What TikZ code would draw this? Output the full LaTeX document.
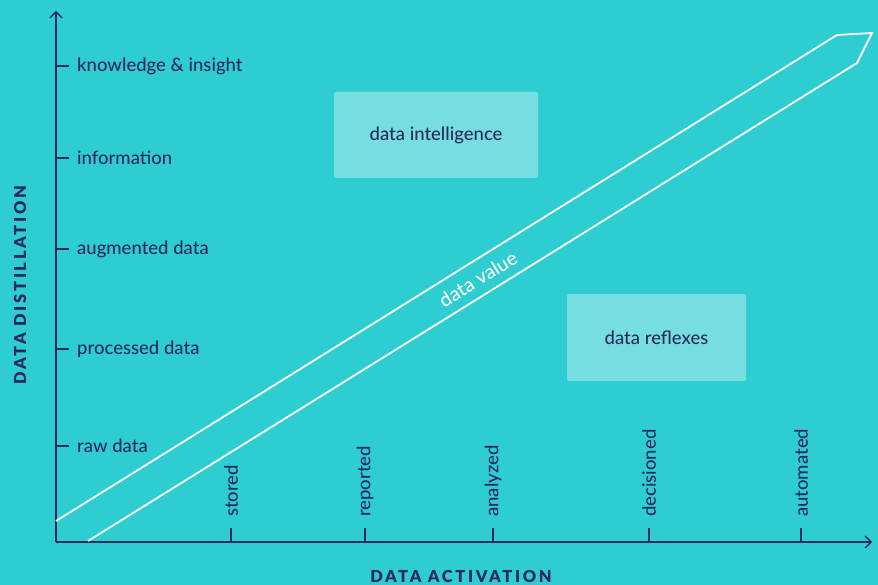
\documentclass[tikz,border=0pt]{standalone}
\usepackage{fontspec}
\setmainfont{Lato Medium}
\newfontfamily\capsfont[LetterSpace=16]{Lato Black}
\usetikzlibrary{arrows.meta}
\definecolor{teal bg}{HTML}{2ECDD2}
\definecolor{ink}{HTML}{2B2A5C}
\tikzset{
  axis/.style={draw=ink,line width=1.3pt},
  band/.style={draw=white,line width=1.8pt,line join=miter},
  area/.style={fill=white,fill opacity=0.35,text opacity=1,rounded corners=2pt,text=ink,font=\fontsize{18.5}{22}\selectfont},
  level/.style={anchor=west,text=ink,font=\fontsize{18.5}{22}\selectfont,inner sep=0pt},
  stage/.style={anchor=west,rotate=90,text=ink,font=\fontsize{18.5}{22}\selectfont,inner sep=0pt}
}
\begin{document}
\begin{tikzpicture}[x=1pt,y=1pt]
  \fill[teal bg] (0,0) rectangle (878,585);
  \useasboundingbox (0,0) rectangle (878,585);
  % axes
  \coordinate (o) at (56,43);
  \coordinate (ytop) at (56,574);
  \coordinate (xend) at (872,43);
  \draw[axis,-{Straight Barb[length=6pt,width=12pt]}] (o) -- (ytop);
  \draw[axis,-{Straight Barb[length=6pt,width=12pt]}] (o) -- (xend);
  % levels
  \foreach \y/\t [count=\i] in {139/raw data,236/processed data,336/augmented data,427/information,519/knowledge \& insight} {
    \draw[axis] (56,\y) -- (69,\y);
    \node[level] (lev\i) at (77,\y) {\t};
  }
  % stages
  \foreach \x/\t [count=\i] in {231/stored,365/reported,493/analyzed,649/decisioned,801/automated} {
    \draw[axis] (\x,43) -- (\x,57);
    \node[stage] (stg\i) at (\x,68) {\t};
  }
  % value band
  \coordinate (b1) at (56,64);
  \coordinate (b2) at (837,550);
  \coordinate (b3) at (872,552);
  \coordinate (b4) at (857,522);
  \coordinate (b5) at (88,44);
  \draw[band] (b1) -- (b2) -- (b3) -- (b4) -- (b5);
  \node[text=white,rotate=31.9,font=\fontsize{19.5}{22}\selectfont] (val) at (478,306) {data value};
  % areas
  \node[area,minimum width=204pt,minimum height=86pt] (intel) at (436,450) {data intelligence};
  \node[area,minimum width=179pt,minimum height=87pt] (reflex) at (656.5,247.5) {data reflexes};
  % axis titles
  \node[text=ink,rotate=90,font=\capsfont\fontsize{16.5}{18}\selectfont] (ylab) at (20,300) {DATA DISTILLATION};
  \node[text=ink,font=\capsfont\fontsize{16.5}{18}\selectfont] (xlab) at (461,9) {DATA ACTIVATION};
\end{tikzpicture}
\end{document}
